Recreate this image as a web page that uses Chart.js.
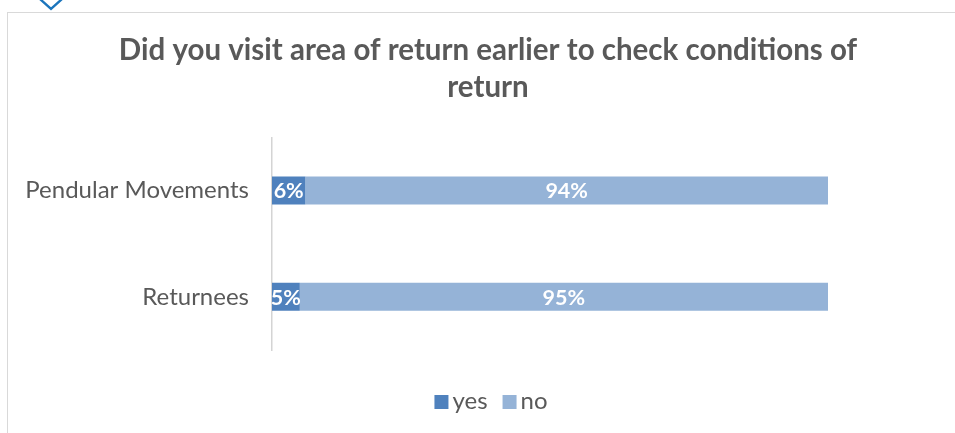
<!DOCTYPE html>
<html>
<head>
<meta charset="utf-8">
<script src="https://cdn.jsdelivr.net/npm/chart.js@4/dist/chart.umd.min.js"></script>
<style>
  html, body { margin: 0; padding: 0; background: #fff; overflow: hidden; width: 955px; height: 433px; }
  #frame { position: absolute; left: 7px; top: 12px; width: 1000px; height: 500px;
           border-left: 1px solid #d9d9d9; border-top: 1px solid #d9d9d9; }
  #wrap { position: absolute; left: 8px; top: 13px; width: 960px; height: 420px; }
  #chev { position: absolute; left: 38px; top: -4px; }
</style>
</head>
<body>
<svg id="chev" width="28" height="16" viewBox="0 0 28 16">
  <polyline points="2,3 13,13 24,3" fill="none" stroke="#1c75bc" stroke-width="2.4"/>
</svg>
<div id="frame"></div>
<div id="wrap"><canvas id="c" width="960" height="420"></canvas></div>
<script>
const categories = ['Pendular Movements', 'Returnees'];
const yesValues = [6, 5];
const noValues = [94, 95];
const seriesNames = ['yes', 'no'];
const titleLines = ['Did you visit area of return earlier to check conditions of', 'return'];

const textGray = '#595959';
const fontFamily = 'Lato, "Open Sans", sans-serif';

// white value labels centred on each bar segment
const segmentLabels = {
  id: 'segmentLabels',
  afterDatasetsDraw(chart) {
    const ctx = chart.ctx;
    ctx.save();
    ctx.fillStyle = '#ffffff';
    ctx.font = 'bold 21.5px ' + fontFamily;
    ctx.textAlign = 'center';
    ctx.textBaseline = 'middle';
    chart.data.datasets.forEach((ds, di) => {
      const meta = chart.getDatasetMeta(di);
      meta.data.forEach((bar, i) => {
        const p = bar.getProps(['x', 'base', 'y'], true);
        const cx = (p.x + p.base) / 2;
        ctx.fillText(ds.data[i] + '%', cx, p.y + 1);
      });
    });
    ctx.restore();
  }
};

// compact legend row centred below the plot
const bottomLegend = {
  id: 'bottomLegend',
  afterDraw(chart) {
    const ctx = chart.ctx;
    const box = 14, gapText = 4, gapItem = 15, cy = 388;
    ctx.save();
    ctx.font = '24px ' + fontFamily;
    ctx.textBaseline = 'middle';
    const items = chart.data.datasets.map(ds => ({
      label: ds.label, color: ds.backgroundColor, w: ctx.measureText(ds.label).width
    }));
    let total = 0;
    items.forEach((it, i) => { total += box + gapText + it.w + (i ? gapItem : 0); });
    let x = chart.width / 2 - total / 2 + 3;
    items.forEach(it => {
      ctx.fillStyle = it.color;
      ctx.fillRect(x, cy - box / 2 + 1, box, box);
      ctx.fillStyle = textGray;
      ctx.fillText(it.label, x + box + gapText, cy);
      x += box + gapText + it.w + gapItem;
    });
    ctx.restore();
  }
};

new Chart(document.getElementById('c'), {
  type: 'bar',
  data: {
    labels: categories,
    datasets: [
      { label: seriesNames[0], data: yesValues, backgroundColor: '#4f81bd' },
      { label: seriesNames[1], data: noValues, backgroundColor: '#95b3d7' }
    ]
  },
  options: {
    indexAxis: 'y',
    responsive: false,
    animation: false,
    devicePixelRatio: 1,
    layout: { padding: { left: 0, right: 0, top: 0, bottom: 83 } },
    datasets: { bar: { barPercentage: 0.263, categoryPercentage: 1, borderWidth: 0 } },
    scales: {
      x: { stacked: true, min: 0, max: 100, display: false },
      y: {
        stacked: true,
        grid: { display: false, drawTicks: false },
        border: { display: true, color: '#d4d4d4', width: 1.5 },
        ticks: { color: textGray, font: { family: fontFamily, size: 24 }, padding: 23 },
        afterFit(scale) { scale.width = 264; }
      },
      // empty right-hand gutter
      yRight: {
        position: 'right',
        grid: { display: false, drawTicks: false },
        border: { display: false },
        ticks: { display: false },
        afterFit(scale) { scale.width = 140; }
      }
    },
    plugins: {
      title: {
        display: true,
        text: titleLines,
        color: textGray,
        font: { family: fontFamily, size: 29.5, weight: 'bold', lineHeight: 1.26 },
        padding: { top: 18.5, bottom: 31.5 }
      },
      legend: { display: false },
      tooltip: { enabled: false }
    }
  },
  plugins: [segmentLabels, bottomLegend]
});
</script>
</body>
</html>
